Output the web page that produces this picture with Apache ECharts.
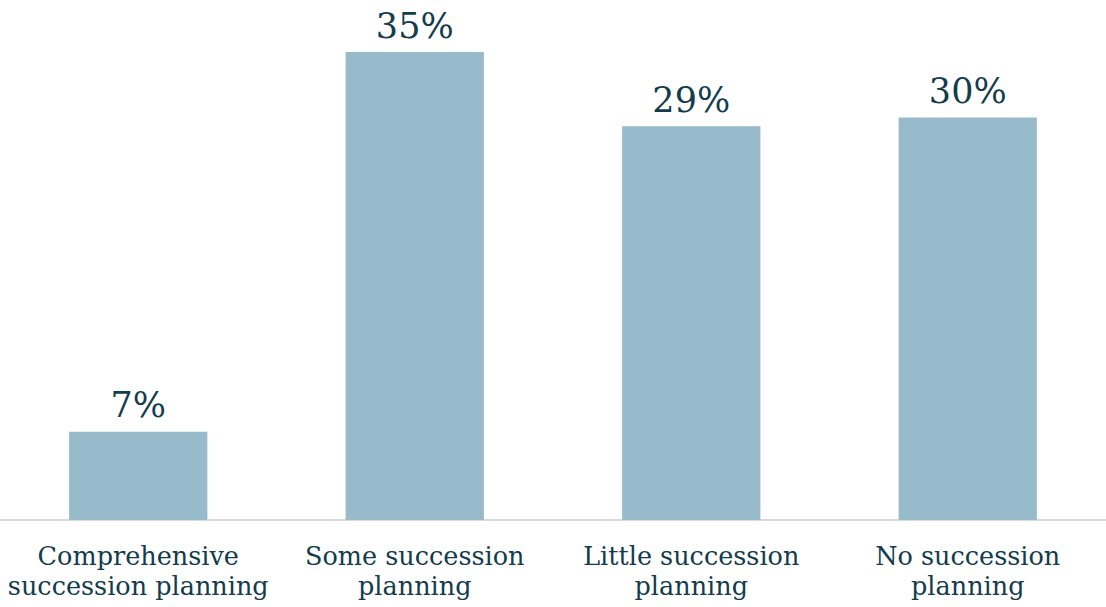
<!DOCTYPE html>
<html>
<head>
<meta charset="utf-8">
<script src="https://cdn.jsdelivr.net/npm/echarts@6/dist/echarts.min.js"></script>
<style>
  html, body { margin: 0; padding: 0; background: #fff; }
  #chart { width: 1106px; height: 607px; }
</style>
</head>
<body>
<div id="chart"></div>
<script>
const categories = [
  'Comprehensive\nsuccession planning',
  'Some succession\nplanning',
  'Little succession\nplanning',
  'No succession\nplanning'
]
// share of respondents (%), bar heights
const shares = [6.6, 35, 29.45, 30.1]

const textColor = '#133c4c'
const serif = '"DejaVu Serif", "Liberation Serif", serif'

const chart = echarts.init(document.getElementById('chart'), null, { renderer: 'svg' })

chart.setOption({
  animation: false,
  grid: { left: -4, right: -2, top: 52, bottom: 87, containLabel: false },
  xAxis: {
    type: 'category',
    data: categories,
    axisLine: { lineStyle: { color: '#d9d9d9', width: 2 } },
    axisTick: { show: false },
    axisLabel: {
      color: textColor,
      fontFamily: serif,
      fontSize: 25.5,
      lineHeight: 30,
      margin: 21,
      interval: 0
    }
  },
  yAxis: {
    type: 'value',
    min: 0,
    max: 35,
    show: false,
    splitLine: { show: false }
  },
  series: [{
    type: 'bar',
    data: shares,
    barWidth: '50%',
    itemStyle: { color: '#97bbca' },
    label: {
      show: true,
      position: 'top',
      distance: 9,
      color: textColor,
      fontFamily: serif,
      fontSize: 35,
      formatter: p => Math.round(p.value) + '%'
    }
  }]
})
</script>
</body>
</html>
